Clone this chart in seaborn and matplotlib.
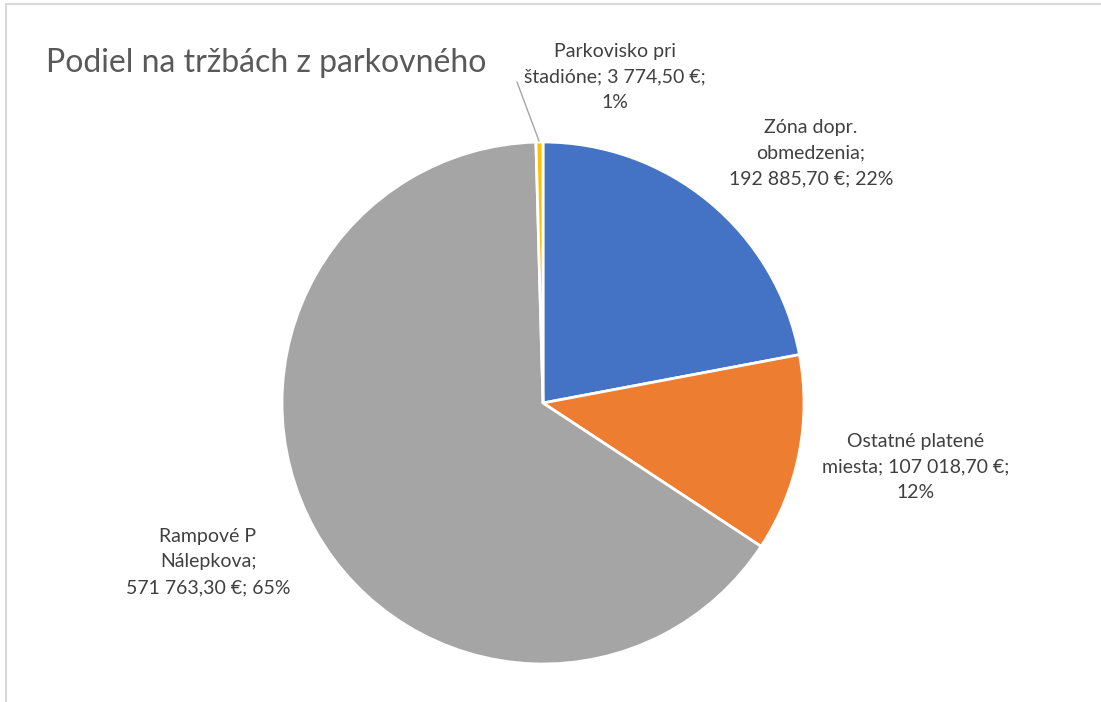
import matplotlib
matplotlib.use("Agg")
import matplotlib.pyplot as plt
from matplotlib.lines import Line2D
import seaborn as sns

# data
segments = ["Zóna dopr. obmedzenia", "Ostatné platené miesta",
            "Rampové P Nálepkova", "Parkovisko pri štadióne"]
revenue = [192885.70, 107018.70, 571763.30, 3774.50]
label_texts = ["Zóna dopr.\nobmedzenia;\n192 885,70 €; 22%",
               "Ostatné platené\nmiesta; 107 018,70 €;\n12%",
               "Rampové P\nNálepkova;\n571 763,30 €; 65%",
               "Parkovisko pri\nštadióne; 3 774,50 €;\n1%"]
colors = ["#4472C4", "#ED7D31", "#A5A5A5", "#FFC000"]
title = "Podiel na tržbách z parkovného"

sns.set_theme(style="white")
plt.rcParams["font.family"] = ["Lato", "DejaVu Sans"]

W, H = 1101, 702
fig = plt.figure(figsize=(W / 100, H / 100), dpi=100)
ax = fig.add_axes([0, 0, 1, 1])

# pie in pixel coords (y flipped)
cx, cy, r = 543, H - 403, 261
ax.pie(revenue, colors=colors, startangle=90, counterclock=False,
       center=(cx, cy), radius=r,
       wedgeprops=dict(edgecolor="white", linewidth=2))
ax.set_xlim(0, W)
ax.set_ylim(0, H)
ax.set_aspect("equal")
ax.axis("off")

# data labels
label_pos = [(811, 153), (916, 467), (208, 562), (615, 77)]
for txt, (x, y) in zip(label_texts, label_pos):
    ax.text(x, H - y, txt, ha="center", va="center", fontsize=14,
            color="#404040", linespacing=1.63)

# leader line for the tiny slice
ax.plot([517, 539], [H - 82, H - 141], color="#A5A5A5", lw=1)

ax.text(46, H - 72, title, ha="left", va="baseline", fontsize=23, color="#595959")

# chart frame
fig.add_artist(Line2D([6 / W, 1], [1 - 4 / H, 1 - 4 / H], color="#D9D9D9", lw=1.5))
fig.add_artist(Line2D([6 / W, 6 / W], [0, 1 - 4 / H], color="#D9D9D9", lw=1.5))

fig.savefig("out.png", dpi=100, facecolor="white")
